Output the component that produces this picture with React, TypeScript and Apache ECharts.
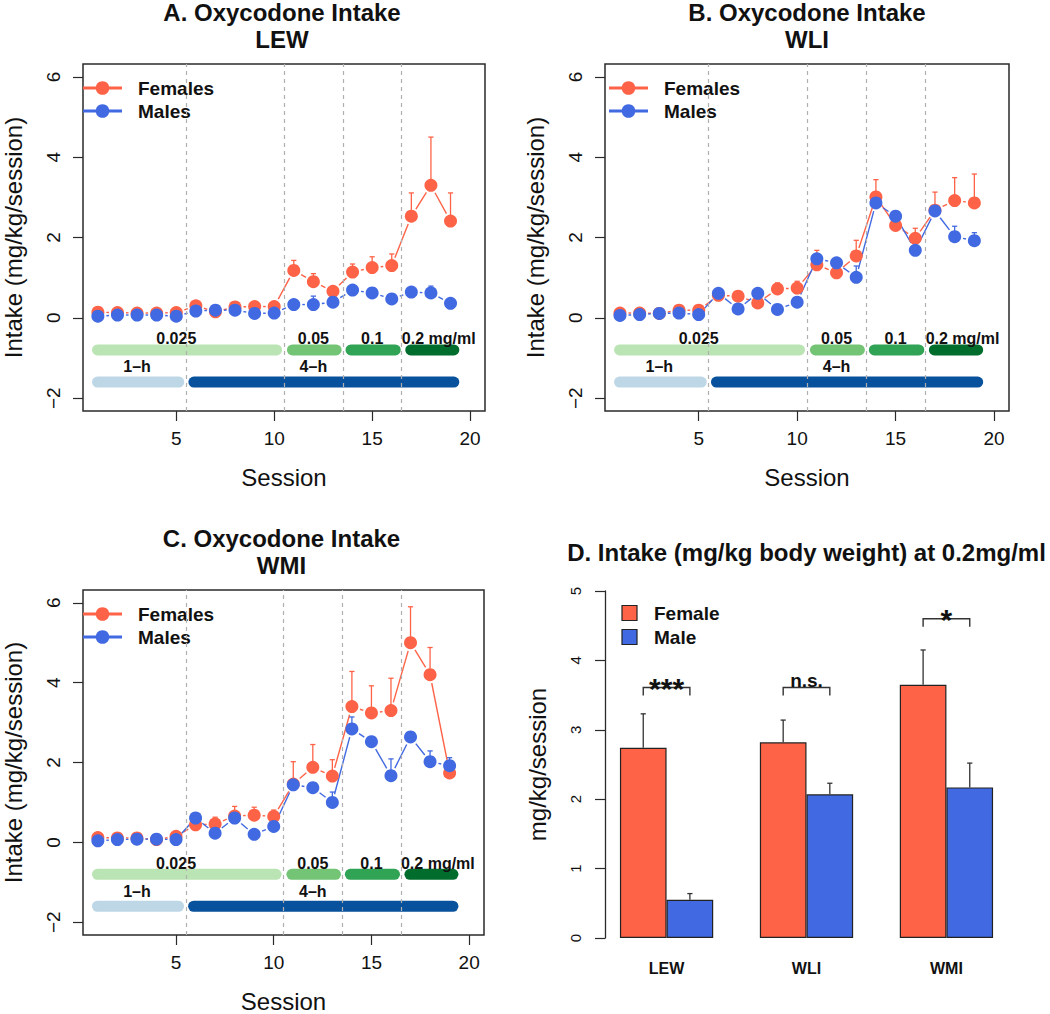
import React, { useEffect, useRef } from "react";
import * as echarts from "echarts";

// ---------------- data ----------------
const sessions = [1, 2, 3, 4, 5, 6, 7, 8, 9, 10, 11, 12, 13, 14, 15, 16, 17, 18, 19];
const sessionTicks = [5, 10, 15, 20];
const intakeTicks = [-2, 0, 2, 4, 6];

const lewFemale = [0.14, 0.13, 0.12, 0.12, 0.13, 0.3, 0.15, 0.27, 0.28, 0.28, 1.18, 0.9, 0.66, 1.14, 1.25, 1.3, 2.53, 3.3, 2.41];
const lewFemaleSem = [0.03, 0.03, 0.03, 0.03, 0.03, 0.05, 0.05, 0.05, 0.05, 0.05, 0.25, 0.2, 0.06, 0.2, 0.27, 0.29, 0.58, 1.2, 0.7];
const lewMale = [0.04, 0.07, 0.07, 0.07, 0.04, 0.17, 0.19, 0.19, 0.11, 0.12, 0.33, 0.33, 0.39, 0.69, 0.62, 0.47, 0.64, 0.62, 0.36];
const lewMaleSem = [0.02, 0.02, 0.02, 0.02, 0.02, 0.04, 0.04, 0.04, 0.03, 0.03, 0.05, 0.21, 0.06, 0.08, 0.06, 0.05, 0.06, 0.17, 0.04];

const wliFemale = [0.12, 0.12, 0.11, 0.19, 0.19, 0.56, 0.54, 0.37, 0.72, 0.74, 1.32, 1.12, 1.54, 3.01, 2.3, 1.98, 2.68, 2.92, 2.86];
const wliFemaleSem = [0.03, 0.03, 0.03, 0.04, 0.04, 0.06, 0.06, 0.06, 0.15, 0.17, 0.36, 0.1, 0.39, 0.43, 0.1, 0.25, 0.45, 0.57, 0.72];
const wliMale = [0.06, 0.08, 0.11, 0.12, 0.08, 0.61, 0.22, 0.61, 0.21, 0.39, 1.47, 1.37, 1.01, 2.86, 2.53, 1.68, 2.66, 2.02, 1.92];
const wliMaleSem = [0.02, 0.02, 0.02, 0.03, 0.02, 0.08, 0.05, 0.08, 0.05, 0.08, 0.1, 0.08, 0.28, 0.27, 0.12, 0.4, 0.1, 0.26, 0.2];

const wmiFemale = [0.12, 0.11, 0.11, 0.07, 0.15, 0.44, 0.46, 0.66, 0.68, 0.65, 1.46, 1.88, 1.66, 3.4, 3.24, 3.3, 5.0, 4.2, 1.74];
const wmiFemaleSem = [0.03, 0.03, 0.03, 0.03, 0.03, 0.06, 0.17, 0.24, 0.2, 0.16, 0.56, 0.57, 0.41, 0.88, 0.68, 0.81, 0.9, 0.68, 0.2];
const wmiMale = [0.04, 0.07, 0.08, 0.08, 0.07, 0.61, 0.23, 0.61, 0.2, 0.4, 1.44, 1.37, 1.0, 2.84, 2.52, 1.67, 2.64, 2.02, 1.92];
const wmiMaleSem = [0.02, 0.02, 0.02, 0.02, 0.02, 0.08, 0.05, 0.08, 0.05, 0.1, 0.1, 0.08, 0.26, 0.3, 0.13, 0.42, 0.1, 0.27, 0.2];

const phaseBoundaries = [5.5, 10.5, 13.5, 16.5];
const dosePhases = [[0.98, 10.12], [10.93, 13.16], [13.92, 16.18], [16.97, 19.17]];
const doseLevel = -0.8;
const doseLabels = ["0.025", "0.05", "0.1", "0.2 mg/ml"];
const doseLabelX = [5, 12, 15, 18.4];
const doseLabelLevel = -0.52;
const hourPhases = [[0.98, 5.13], [5.9, 19.17]];
const hourLevel = -1.6;
const hourLabels = ["1\u2013h", "4\u2013h"];
const hourLabelX = [3, 12];
const hourLabelLevel = -1.22;

const strains = ["LEW", "WLI", "WMI"];
const strainTitles = ["A. Oxycodone Intake", "B. Oxycodone Intake", "C. Oxycodone Intake"];
const barFemale = [2.74, 2.82, 3.65];
const barFemaleSem = [0.49, 0.32, 0.5];
const barMale = [0.55, 2.07, 2.17];
const barMaleSem = [0.09, 0.16, 0.35];
const sigLabels = ["***", "n.s.", "*"];
const sigLevel = [3.61, 3.61, 4.6];

// ---------------- styles ----------------
const FONT = "'Liberation Sans', Arial, Helvetica, sans-serif";
const RED = "#FF6347";
const BLUE = "#4169E1";
const INK = "#111";
const AXIS = "#2a2a2a";
const doseColors = ["#bae4b3", "#74c476", "#31a354", "#006d2c"];
const hourColors = ["#bdd7e7", "#08519c"];

const grids = [
  { left: 79, top: 64, width: 406, height: 347 },
  { left: 605, top: 64, width: 404, height: 347 },
  { left: 79, top: 590, width: 405, height: 347 },
  { left: 605, top: 591, width: 403, height: 347 },
];

const panels = [
  { female: lewFemale, femaleSem: lewFemaleSem, male: lewMale, maleSem: lewMaleSem },
  { female: wliFemale, femaleSem: wliFemaleSem, male: wliMale, maleSem: wliMaleSem },
  { female: wmiFemale, femaleSem: wmiFemaleSem, male: wmiMale, maleSem: wmiMaleSem },
];

const minusFmt = (v: number) => (v < 0 ? "\u2212" + Math.abs(v) : String(v));

const segRender = (color: string) => (params: any, api: any) => {
  const p1 = api.coord([api.value(0), api.value(1)]);
  const p2 = api.coord([api.value(2), api.value(3)]);
  const dx = p2[0] - p1[0];
  const dy = p2[1] - p1[1];
  const d = Math.hypot(dx, dy);
  const g = 8.5;
  if (d <= 2 * g) return { type: "group", children: [] };
  const ux = dx / d;
  const uy = dy / d;
  return {
    type: "line",
    shape: { x1: p1[0] + ux * g, y1: p1[1] + uy * g, x2: p2[0] - ux * g, y2: p2[1] - uy * g },
    style: { stroke: color, lineWidth: 1.4 },
  };
};

const errRender = (color: string) => (params: any, api: any) => {
  const x = api.value(0);
  const p1 = api.coord([x, api.value(1)]);
  const p2 = api.coord([x, api.value(2)]);
  return {
    type: "group",
    children: [
      { type: "line", shape: { x1: p1[0], y1: p1[1], x2: p2[0], y2: p2[1] }, style: { stroke: color, lineWidth: 1.3 } },
      { type: "line", shape: { x1: p2[0] - 2.6, y1: p2[1], x2: p2[0] + 2.6, y2: p2[1] }, style: { stroke: color, lineWidth: 1.3 } },
    ],
  };
};

const phaseRender = (colors: string[]) => (params: any, api: any) => {
  const p1 = api.coord([api.value(0), api.value(2)]);
  const p2 = api.coord([api.value(1), api.value(2)]);
  return {
    type: "line",
    shape: { x1: p1[0], y1: p1[1], x2: p2[0], y2: p1[1] },
    style: { stroke: colors[params.dataIndex], lineWidth: 11, lineCap: "round" },
  };
};

const labelRender = (labels: string[]) => (params: any, api: any) => {
  const p = api.coord([api.value(0), api.value(1)]);
  return {
    type: "text",
    x: p[0],
    y: p[1],
    style: {
      text: labels[params.dataIndex],
      fontFamily: FONT,
      fontWeight: "bold",
      fontSize: 16,
      fill: INK,
      align: "center",
      verticalAlign: "middle",
    },
  };
};

const bracketRender = (params: any, api: any) => {
  const pl = api.coord([api.value(0), api.value(2)]);
  const pr = api.coord([api.value(1), api.value(2)]);
  const label = sigLabels[params.dataIndex];
  const star = label.indexOf("*") >= 0;
  const cx = (pl[0] + pr[0]) / 2;
  return {
    type: "group",
    children: [
      {
        type: "polyline",
        shape: { points: [[pl[0], pl[1] + 8], [pl[0], pl[1]], [pr[0], pr[1]], [pr[0], pr[1] + 8]] },
        style: { stroke: "#333", lineWidth: 1.4, fill: null },
      },
      {
        type: "text",
        x: cx,
        y: star ? pl[1] + 16 : pl[1] + 3,
        style: {
          text: label,
          fontFamily: FONT,
          fontWeight: "bold",
          fontSize: star ? 30 : 19,
          fill: INK,
          align: "center",
          verticalAlign: "bottom",
        },
      },
    ],
  };
};

function buildOption() {
  const xAxis: any[] = [];
  const yAxis: any[] = [];
  const series: any[] = [];
  const graphic: any[] = [];

  panels.forEach((p, i) => {
    xAxis.push({
      gridIndex: i,
      type: "value",
      min: 0.24,
      max: 20.76,
      axisLine: { show: false, onZero: false },
      splitLine: { show: false },
      axisTick: { show: true, length: 10, customValues: sessionTicks, lineStyle: { color: AXIS, width: 1.2 } },
      axisLabel: { customValues: sessionTicks, fontSize: 19, color: INK, margin: 18, fontFamily: FONT },
      name: "Session",
      nameLocation: "middle",
      nameGap: 54,
      nameTextStyle: { fontSize: 24, color: INK, fontFamily: FONT },
    });
    yAxis.push({
      gridIndex: i,
      type: "value",
      min: -2.32,
      max: 6.32,
      axisLine: { show: false, onZero: false },
      splitLine: { show: false },
      axisTick: { show: true, length: 10, customValues: intakeTicks, lineStyle: { color: AXIS, width: 1.2 } },
      axisLabel: { customValues: intakeTicks, rotate: 90, fontSize: 19, color: INK, margin: 20, fontFamily: FONT, formatter: minusFmt },
      name: "Intake (mg/kg/session)",
      nameLocation: "middle",
      nameGap: 58,
      nameRotate: 90,
      nameTextStyle: { fontSize: 24, color: INK, fontFamily: FONT },
    });

    const ax = { xAxisIndex: i, yAxisIndex: i };
    // session-block boundaries
    series.push({
      type: "scatter",
      ...ax,
      data: [],
      z: 1,
      markLine: {
        silent: true,
        symbol: ["none", "none"],
        label: { show: false },
        lineStyle: { type: [4, 4], color: "#b0b0b0", width: 1.2 },
        data: phaseBoundaries.map((b) => ({ xAxis: b })),
      },
    });
    series.push({
      type: "custom",
      ...ax,
      z: 2,
      renderItem: phaseRender(doseColors),
      data: dosePhases.map((ph) => [ph[0], ph[1], doseLevel]),
      encode: { x: [0, 1], y: 2 },
    });
    series.push({
      type: "custom",
      ...ax,
      z: 2,
      renderItem: phaseRender(hourColors),
      data: hourPhases.map((ph) => [ph[0], ph[1], hourLevel]),
      encode: { x: [0, 1], y: 2 },
    });
    series.push({
      type: "custom",
      ...ax,
      z: 3,
      renderItem: labelRender(doseLabels),
      data: doseLabels.map((t, k) => [doseLabelX[k], doseLabelLevel]),
      encode: { x: 0, y: 1 },
    });
    series.push({
      type: "custom",
      ...ax,
      z: 3,
      renderItem: labelRender(hourLabels),
      data: hourLabels.map((t, k) => [hourLabelX[k], hourLabelLevel]),
      encode: { x: 0, y: 1 },
    });

    const addSex = (name: string, vals: number[], sem: number[], color: string) => {
      series.push({
        type: "custom",
        ...ax,
        z: 4,
        renderItem: errRender(color),
        data: sessions.map((s, k) => [s, vals[k], vals[k] + sem[k]]),
        encode: { x: 0, y: [1, 2] },
      });
      series.push({
        type: "custom",
        ...ax,
        z: 4,
        renderItem: segRender(color),
        data: sessions.slice(0, -1).map((s, k) => [s, vals[k], sessions[k + 1], vals[k + 1]]),
        encode: { x: [0, 2], y: [1, 3] },
      });
      series.push({
        type: "scatter",
        ...ax,
        name,
        z: 4,
        symbol: "circle",
        symbolSize: 13,
        itemStyle: { color, opacity: 1 },
        data: sessions.map((s, k) => [s, vals[k]]),
      });
    };
    addSex("Females", p.female, p.femaleSem, RED);
    addSex("Males", p.male, p.maleSem, BLUE);

    // titles
    const g = grids[i];
    const cx = g.left + g.width / 2;
    graphic.push({
      type: "text",
      x: cx,
      y: g.top - 52,
      style: { text: strainTitles[i], fontFamily: FONT, fontWeight: "bold", fontSize: 24, fill: INK, align: "center", verticalAlign: "middle" },
    });
    graphic.push({
      type: "text",
      x: cx,
      y: g.top - 25,
      style: { text: strains[i], fontFamily: FONT, fontWeight: "bold", fontSize: 24, fill: INK, align: "center", verticalAlign: "middle" },
    });
    // legend
    [["Females", RED, 24], ["Males", BLUE, 47]].forEach(([name, color, dy]: any) => {
      const y = g.top + dy;
      graphic.push({ type: "line", shape: { x1: g.left + 4, y1: y, x2: g.left + 43, y2: y }, style: { stroke: color, lineWidth: 2.8 } });
      graphic.push({ type: "circle", shape: { cx: g.left + 23.5, cy: y, r: 6.8 }, style: { fill: color } });
      graphic.push({
        type: "text",
        x: g.left + 59,
        y: y,
        style: { text: name, fontFamily: FONT, fontWeight: "bold", fontSize: 19, fill: INK, align: "left", verticalAlign: "middle" },
      });
    });
  });

  // ---------------- panel D ----------------
  const d = 3;
  const gd = grids[d];
  xAxis.push({ gridIndex: d, type: "value", min: 0.68, max: 9.32, show: false, axisLine: { onZero: false } });
  yAxis.push({
    gridIndex: d,
    type: "value",
    min: 0,
    max: 5,
    interval: 1,
    axisLine: { show: true, onZero: false, lineStyle: { color: AXIS, width: 1.3 } },
    splitLine: { show: false },
    axisTick: { show: true, length: 10, lineStyle: { color: AXIS, width: 1.2 } },
    axisLabel: { rotate: 90, fontSize: 15, color: INK, margin: 22, fontFamily: FONT },
    name: "mg/kg/session",
    nameLocation: "middle",
    nameGap: 56,
    nameRotate: 90,
    nameTextStyle: { fontSize: 24, color: INK, fontFamily: FONT },
  });
  const axd = { xAxisIndex: d, yAxisIndex: d };
  const barW = gd.width / 8.64;
  series.push({
    type: "bar",
    ...axd,
    name: "Female",
    barWidth: barW,
    barGap: "-100%",
    itemStyle: { color: RED, borderColor: "#222", borderWidth: 1.2 },
    data: strains.map((s, k) => [3 * k + 1.5, barFemale[k]]),
  });
  series.push({
    type: "bar",
    ...axd,
    name: "Male",
    barWidth: barW,
    barGap: "-100%",
    itemStyle: { color: BLUE, borderColor: "#222", borderWidth: 1.2 },
    data: strains.map((s, k) => [3 * k + 2.5, barMale[k]]),
  });
  series.push({
    type: "custom",
    ...axd,
    z: 4,
    renderItem: errRender("#333"),
    data: [
      ...strains.map((s, k) => [3 * k + 1.5, barFemale[k], barFemale[k] + barFemaleSem[k]]),
      ...strains.map((s, k) => [3 * k + 2.5, barMale[k], barMale[k] + barMaleSem[k]]),
    ],
    encode: { x: 0, y: [1, 2] },
  });
  series.push({
    type: "custom",
    ...axd,
    z: 4,
    renderItem: bracketRender,
    data: strains.map((s, k) => [3 * k + 1.5, 3 * k + 2.5, sigLevel[k]]),
    encode: { x: [0, 1], y: 2 },
  });
  series.push({
    type: "custom",
    ...axd,
    z: 4,
    renderItem: (params: any, api: any) => {
      const p = api.coord([api.value(0), api.value(1)]);
      return {
        type: "text",
        x: p[0],
        y: p[1] + 30,
        style: {
          text: strains[params.dataIndex],
          fontFamily: FONT,
          fontWeight: "bold",
          fontSize: 16,
          fill: INK,
          align: "center",
          verticalAlign: "middle",
        },
      };
    },
    data: strains.map((s, k) => [3 * k + 2, 0]),
    encode: { x: 0, y: 1 },
  });

  graphic.push({
    type: "text",
    x: gd.left + gd.width / 2,
    y: 552,
    style: {
      text: "D. Intake (mg/kg body weight) at 0.2mg/ml",
      fontFamily: FONT,
      fontWeight: "bold",
      fontSize: 24,
      fill: INK,
      align: "center",
      verticalAlign: "middle",
    },
  });
  [["Female", RED, 613], ["Male", BLUE, 637]].forEach(([name, color, y]: any) => {
    graphic.push({ type: "rect", shape: { x: 622, y: y - 7.5, width: 15, height: 15 }, style: { fill: color, stroke: "#222", lineWidth: 1.2 } });
    graphic.push({
      type: "text",
      x: 654,
      y: y,
      style: { text: name, fontFamily: FONT, fontWeight: "bold", fontSize: 19, fill: INK, align: "left", verticalAlign: "middle" },
    });
  });

  return {
    animation: false,
    backgroundColor: "#ffffff",
    textStyle: { fontFamily: FONT },
    grid: grids.map((g, i) => ({
      ...g,
      show: i < 3,
      borderColor: AXIS,
      borderWidth: 1.5,
      backgroundColor: "transparent",
    })),
    xAxis,
    yAxis,
    series,
    graphic,
  };
}

export default function App() {
  const ref = useRef<HTMLDivElement>(null);
  useEffect(() => {
    if (!ref.current) return;
    const chart = echarts.init(ref.current, undefined, { renderer: "svg" });
    chart.setOption(buildOption() as any);
    return () => chart.dispose();
  }, []);
  return (
    <div
      ref={ref}
      style={{ position: "absolute", left: 0, top: 0, width: 1050, height: 1014, background: "#fff" }}
    />
  );
}
